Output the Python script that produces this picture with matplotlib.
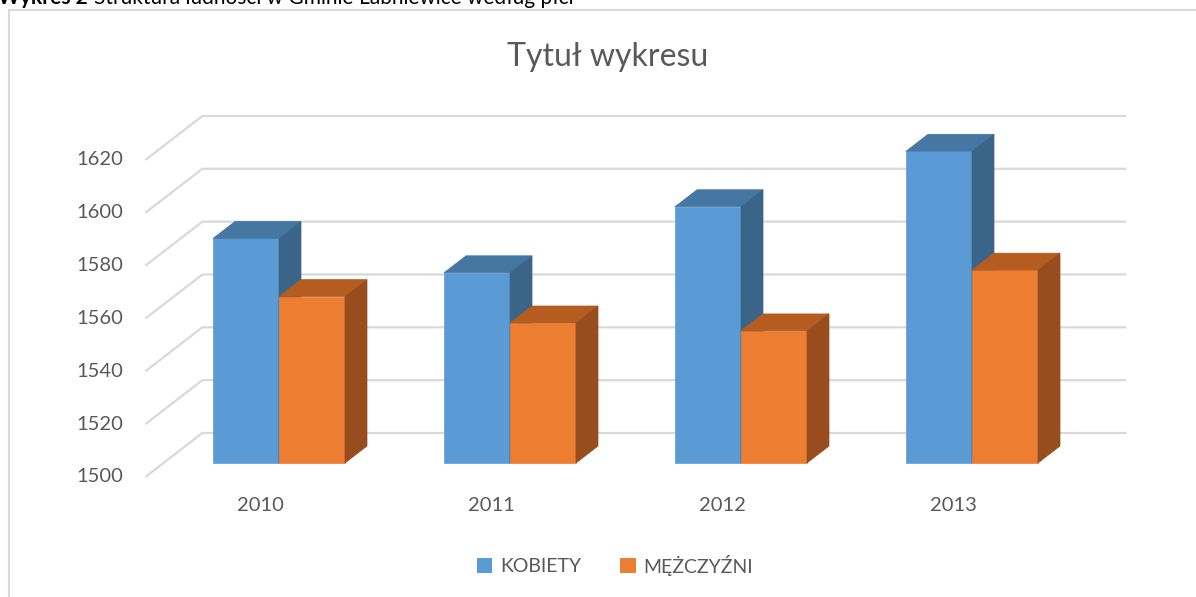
import matplotlib
matplotlib.use("Agg")
import matplotlib.pyplot as plt
from matplotlib.patches import Polygon, Patch
from matplotlib.lines import Line2D

plt.rcParams["font.family"] = ["Lato", "DejaVu Sans"]

years = ["2010", "2011", "2012", "2013"]
kobiety = [1585, 1572, 1597, 1618]
mezczyzni = [1563, 1553, 1550, 1573]
series_names = ["KOBIETY", "MĘŻCZYŹNI"]
y_ticks = [1500, 1520, 1540, 1560, 1580, 1600, 1620]

TEXT = "#595959"
GRID = "#d9d9d9"
FACES = {
    "KOBIETY": ("#5b9bd5", "#4677a3", "#3a6589"),
    "MĘŻCZYŹNI": ("#ed7d31", "#b55d21", "#984d1e"),
}

# oblique 3D projection, in data units (category spacing / value units)
BASE = 1500
DX, DY = 0.2468, 16.65     # full depth of the plot box
Z0, BD = 0.318, 0.386      # bar front depth and bar depth
W = 0.2857                 # bar width
X_LEFT, X_RIGHT = -0.5, 3.5


def proj(xc, v, z):
    return (xc + (z - Z0) * DX, v + (z - Z0) * DY)


def draw_bar(ax, x0, v, colors):
    front, top, side = colors
    x1 = x0 + W
    z1 = Z0 + BD
    ax.add_patch(Polygon([proj(x0, BASE, Z0), proj(x1, BASE, Z0), proj(x1, v, Z0), proj(x0, v, Z0)],
                         closed=True, facecolor=front, edgecolor=front, lw=0.5))
    ax.add_patch(Polygon([proj(x0, v, Z0), proj(x1, v, Z0), proj(x1, v, z1), proj(x0, v, z1)],
                         closed=True, facecolor=top, edgecolor=top, lw=0.5))
    ax.add_patch(Polygon([proj(x1, BASE, Z0), proj(x1, v, Z0), proj(x1, v, z1), proj(x1, BASE, z1)],
                         closed=True, facecolor=side, edgecolor=side, lw=0.5))


fig = plt.figure(figsize=(11.96, 5.97), dpi=100)
ax = fig.add_axes([0, 0, 1, 1])
ax.set_xlim(-279 / 231, (1196 - 279) / 231)
ax.set_ylim(1500 - 134 / 2.642, 1500 + 463 / 2.642)
ax.axis("off")

# chart frame
fig.add_artist(Line2D([9 / 1196, 9 / 1196], [0, 1 - 10 / 597], transform=fig.transFigure, color=GRID, lw=1.5))
fig.add_artist(Line2D([9 / 1196, 1], [1 - 10 / 597, 1 - 10 / 597], transform=fig.transFigure, color=GRID, lw=1.5))

# gridlines on side and back wall
for v in y_ticks:
    pts = [proj(X_LEFT, v, 0), proj(X_LEFT, v, 1), proj(X_RIGHT, v, 1)]
    ax.plot([p[0] for p in pts], [p[1] for p in pts], color=GRID, lw=1.6, zorder=1,
            solid_capstyle="butt")
    ax.annotate(str(v), proj(X_LEFT, v, 0), xytext=(-22, 0), textcoords="offset pixels",
                ha="right", va="center", fontsize=14.5, color=TEXT)

for i, year in enumerate(years):
    draw_bar(ax, i - W, kobiety[i], FACES["KOBIETY"])
    draw_bar(ax, i, mezczyzni[i], FACES["MĘŻCZYŹNI"])
    ax.annotate(year, proj(i, BASE, 0), xytext=(0, -29), textcoords="offset pixels",
                ha="center", va="center", fontsize=14.5, color=TEXT)

fig.text(608 / 1196, 1 - 57 / 597, "Tytuł wykresu", ha="center", va="center", fontsize=23, color=TEXT)

handles = [Patch(facecolor=FACES[n][0], edgecolor="none") for n in series_names]
fig.legend(handles, series_names, loc="center", bbox_to_anchor=(615 / 1196, 1 - 565 / 597), ncol=2,
           frameon=False, fontsize=14, labelcolor=TEXT, handlelength=0.8, handleheight=0.8,
           handletextpad=0.4, columnspacing=2.0)

# caption above the chart, cut off by the page edge
fig.text(-2 / 1196, 1 - 4 / 597, "Wykres 2", ha="left", va="baseline", fontsize=15, fontweight="bold", color="black")
fig.text(94 / 1196, 1 - 4 / 597, "Struktura ludności w Gminie Łabniewice według płci", ha="left",
         va="baseline", fontsize=15, color="black")

fig.savefig("out.png", dpi=100)
